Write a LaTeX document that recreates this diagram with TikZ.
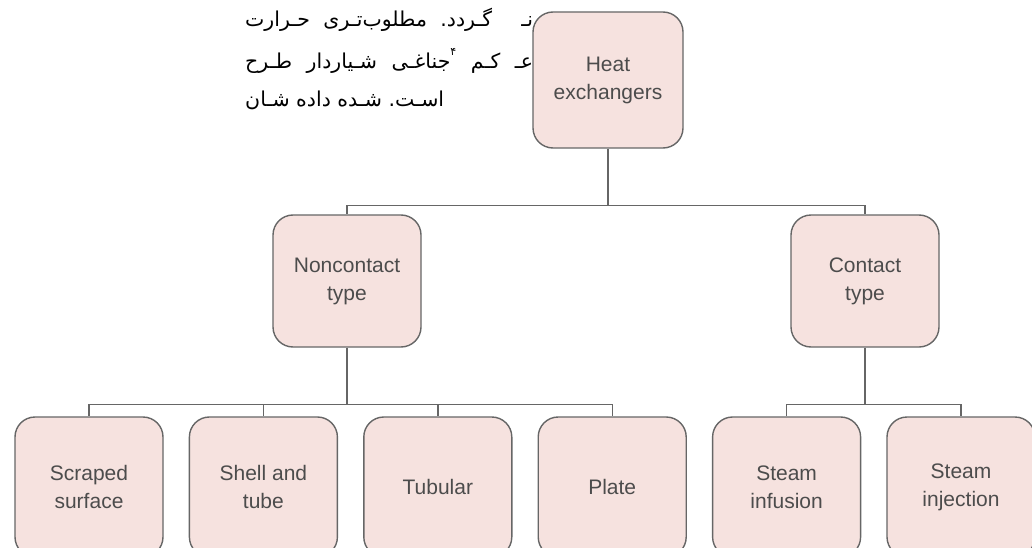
\documentclass[tikz,border=0pt]{standalone}
\usepackage{fontspec}
\setmainfont{Liberation Sans}
\newfontfamily\arabicfont[Script=Arabic]{DejaVu Sans}
\usetikzlibrary{positioning}
\definecolor{boxfill}{HTML}{F6E2DF}
\definecolor{boxline}{HTML}{666666}
\definecolor{labeltext}{HTML}{4C4C4C}
\tikzset{
  block/.style={draw=boxline, fill=boxfill, line width=1.4pt, rounded corners=20pt,
    minimum width=148pt, minimum height=132pt, align=center, text=labeltext,
    font=\fontsize{21}{28}\selectfont},
  leaf/.style={block, minimum height=140pt},
  link/.style={draw=boxline, line width=1.4pt}
}

\begin{document}
\begin{tikzpicture}[x=1pt,y=-1pt]
\useasboundingbox (0,0) rectangle (1032,548);

% page text behind the figure (its words run left to right, as in the scan)
\begin{scope}[font=\arabicfont\fontsize{20.5}{24}\selectfont, anchor=west, inner sep=0pt]
\node (line1) at (245,20) {\hbox to 288pt{حـرارت مطلوب‌تـری گـردد. نـ}};
\node (line2) at (245,61) {\hbox to 288pt{طـرح شـیاردار جناغـی\raisebox{1.1ex}{\fontsize{11}{11}\selectfont ۴}\ کـم عـ}};
\node (line3) at (245,100) {شـان داده شـده اسـت.};
\end{scope}

% root
\node[block, minimum width=150pt, minimum height=136pt] (heat) at (608,80) {Heat\\exchangers};

% second level
\node[block] (noncontact) at (347,281) {Noncontact\\type};
\node[block] (contact) at (865,281) {Contact\\type};

% leaves
\pgfmathsetmacro{\ly}{487}
\node[leaf] (scraped) at (89,\ly) {Scraped\\surface};
\node[leaf, right=25pt of scraped] (shell) {Shell and\\tube};
\node[leaf, right=25pt of shell] (tubular) {Tubular};
\node[leaf, right=25pt of tubular] (plate) {Plate};
\node[leaf, right=25pt of plate] (infusion) {Steam\\infusion};
\node[leaf, right=25pt of infusion] (injection) {Steam\\injection};

% connectors
\coordinate (bus1) at ([yshift=-57pt]heat.south);
\draw[link] (heat.south) -- (bus1);
\draw[link] (bus1) -| (noncontact.north);
\draw[link] (bus1) -| (contact.north);

\coordinate (bus2) at ([yshift=-57pt]noncontact.south);
\draw[link] (noncontact.south) -- (bus2);
\foreach \n in {scraped,shell,tubular,plate}
  \draw[link] (bus2) -| (\n.north);

\coordinate (bus3) at ([yshift=-57pt]contact.south);
\draw[link] (contact.south) -- (bus3);
\foreach \n in {infusion,injection}
  \draw[link] (bus3) -| (\n.north);
\end{tikzpicture}
\end{document}
